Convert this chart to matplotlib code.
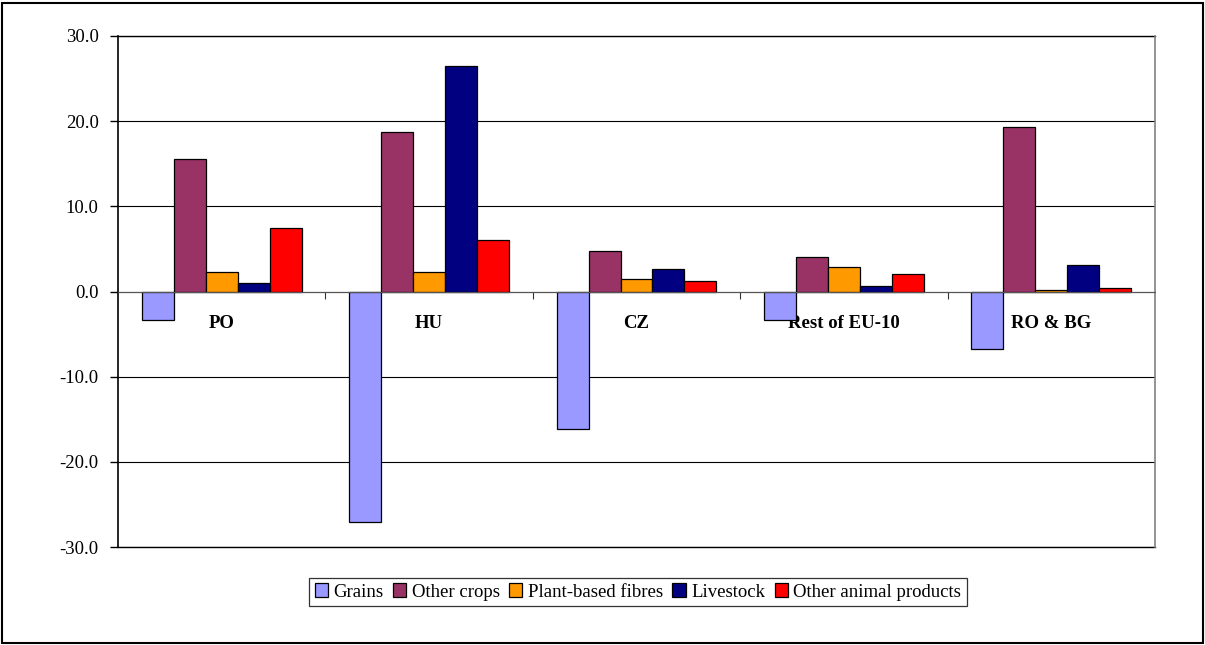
import numpy as np
import matplotlib
matplotlib.use('Agg')
import matplotlib.pyplot as plt
from matplotlib.patches import Rectangle

regions = ['PO', 'HU', 'CZ', 'Rest of EU-10', 'RO & BG']
series = ['Grains', 'Other crops', 'Plant-based fibres', 'Livestock', 'Other animal products']
grains = [-3.3, -27.1, -16.1, -3.3, -6.8]
other_crops = [15.5, 18.7, 4.8, 4.0, 19.3]
fibres = [2.3, 2.3, 1.5, 2.9, 0.2]
livestock = [1.0, 26.5, 2.6, 0.6, 3.1]
other_animal = [7.5, 6.0, 1.2, 2.1, 0.4]
y_ticks = [-30, -20, -10, 0, 10, 20, 30]

colors = ['#9999FF', '#993366', '#FF9900', '#000080', '#FF0000']
values = [grains, other_crops, fibres, livestock, other_animal]

plt.rcParams['font.family'] = ['Liberation Serif', 'DejaVu Serif']
fs = 13.5

fig = plt.figure(figsize=(12.05, 6.45), dpi=100)
ax = fig.add_axes([118 / 1205, 1 - 547 / 645, 1037 / 1205, 511 / 645])

x = np.arange(len(regions))
w = 0.154
for i, (vals, clr, name) in enumerate(zip(values, colors, series)):
    ax.bar(x + (i - 2) * w, vals, w, color=clr, edgecolor='black',
           linewidth=0.9, label=name, zorder=3)

ax.set_xlim(-0.5, len(regions) - 0.5)
ax.set_ylim(-30, 30)
ax.set_yticks(y_ticks)
ax.set_yticklabels([f'{v:.1f}' for v in y_ticks], fontsize=fs)
ax.yaxis.grid(True, color='black', linewidth=0.8, zorder=0)
ax.axhline(-30, color='black', linewidth=1.0, clip_on=False, zorder=2)
ax.axhline(30, color='black', linewidth=1.0, clip_on=False, zorder=2)
ax.tick_params(axis='y', direction='out', length=6, width=1, pad=8)

# category axis sits on the zero line
ax.spines['bottom'].set_position(('data', 0))
ax.spines['bottom'].set_color('#555555')
ax.spines['bottom'].set_zorder(4)
ax.set_xticks(np.arange(0.5, len(regions) - 0.5, 1.0))
ax.set_xticklabels([])
ax.tick_params(axis='x', which='major', direction='out', length=5,
               color='#333333')
ax.set_xticks(x, minor=True)
ax.set_xticklabels(regions, minor=True, fontsize=fs, fontweight='bold')
ax.tick_params(axis='x', which='minor', length=0, pad=17)

ax.spines['top'].set_visible(False)
ax.spines['right'].set_color('#808080')
ax.spines['right'].set_linewidth(1.2)
ax.spines['left'].set_linewidth(1.2)

leg = fig.legend(loc='center', bbox_to_anchor=(638 / 1205, 1 - 592 / 645),
                 ncol=5, fontsize=fs, frameon=True, fancybox=False,
                 edgecolor='black', handlelength=0.7, handleheight=0.7,
                 handletextpad=0.3, columnspacing=0.5, borderpad=0.3,
                 borderaxespad=0)
leg.get_frame().set_linewidth(0.9)

fig.patches.append(Rectangle((2 / 1205, 2 / 645), 1201 / 1205, 640 / 645,
                             transform=fig.transFigure, fill=False,
                             edgecolor='black', linewidth=1.5))

fig.savefig('out.png', dpi=100, facecolor='white')
